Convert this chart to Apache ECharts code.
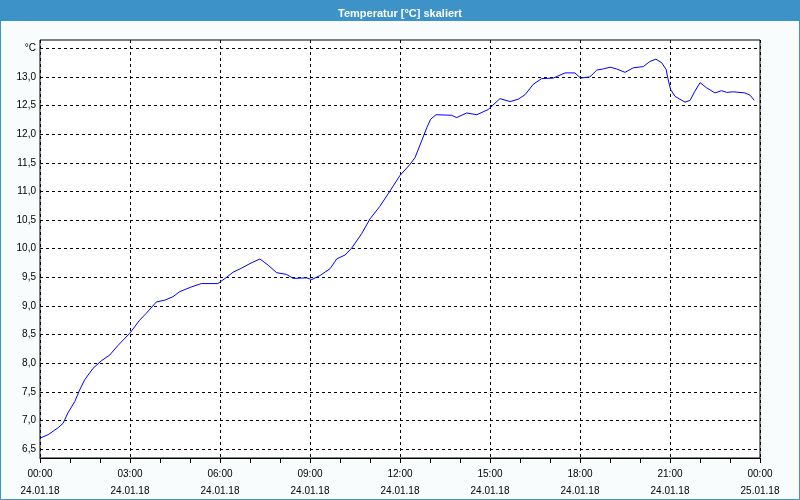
<!DOCTYPE html>
<html>
<head>
<meta charset="utf-8">
<script src="https://cdn.jsdelivr.net/npm/echarts@6/dist/echarts.min.js"></script>
<style>
html,body{margin:0;padding:0;background:#f9fcfc;}
#c{width:800px;height:500px;}
</style>
</head>
<body>
<div id="c"></div>
<script>
var titleText = 'Temperatur [°C] skaliert';
var hours = [0,0.27,0.6,0.77,0.93,1.16,1.32,1.49,1.77,2.04,2.32,2.6,2.99,3.32,3.54,3.88,4.16,4.43,4.66,5.04,5.38,5.93,6.22,6.44,6.72,7.0,7.33,7.61,7.89,8.22,8.44,8.89,9.06,9.33,9.67,9.89,10.17,10.39,10.72,11.0,11.33,11.67,12.0,12.33,12.5,12.72,12.89,13.02,13.2,13.72,13.89,14.22,14.56,14.94,15.33,15.67,15.94,16.17,16.44,16.72,17.11,17.5,17.83,18.02,18.33,18.56,18.78,19.0,19.22,19.5,19.78,20.11,20.33,20.53,20.72,20.87,20.94,21.02,21.17,21.33,21.5,21.67,21.83,22.0,22.22,22.5,22.72,22.89,23.11,23.5,23.67,23.81];
var temps = [6.69,6.75,6.87,6.95,7.13,7.33,7.53,7.71,7.91,8.04,8.14,8.31,8.52,8.75,8.87,9.07,9.10,9.16,9.25,9.33,9.39,9.39,9.50,9.59,9.66,9.74,9.82,9.71,9.58,9.55,9.48,9.49,9.46,9.53,9.65,9.82,9.89,10.01,10.26,10.52,10.74,11.01,11.28,11.47,11.59,11.88,12.11,12.26,12.34,12.33,12.29,12.37,12.34,12.43,12.62,12.57,12.61,12.69,12.87,12.97,12.98,13.07,13.07,12.98,13.00,13.12,13.14,13.17,13.14,13.08,13.16,13.18,13.27,13.31,13.25,13.13,12.95,12.78,12.66,12.61,12.56,12.59,12.75,12.90,12.81,12.72,12.76,12.73,12.74,12.72,12.68,12.59];
var yTicks = [6.5,7.0,7.5,8.0,8.5,9.0,9.5,10.0,10.5,11.0,11.5,12.0,12.5,13.0,13.5];
var unitLabel = '°C';
var timeLabels = ['00:00','03:00','06:00','09:00','12:00','15:00','18:00','21:00','00:00'];
var dateLabels = ['24.01.18','24.01.18','24.01.18','24.01.18','24.01.18','24.01.18','24.01.18','24.01.18','25.01.18'];

var data = hours.map(function(h,i){return [h,temps[i]];});
var font = 'Liberation Sans';
var chart = echarts.init(document.getElementById('c'));
chart.setOption({
  animation:false,
  backgroundColor:'#f9fcfc',
  graphic:[
    {type:'rect',z:-1,shape:{x:0,y:0,width:800,height:21},style:{fill:'#3d92c8'}},
    {type:'rect',z:100,shape:{x:0.5,y:0.5,width:799,height:499},style:{fill:null,stroke:'#3d92c8',lineWidth:1}}
  ],
  title:{text:titleText,left:'center',top:3,textStyle:{color:'#fff',fontFamily:font,fontSize:11,fontWeight:'bold'}},
  grid:{left:40,right:40,top:40,bottom:40,show:true,backgroundColor:'#ffffff',borderColor:'#000',borderWidth:1},
  xAxis:{type:'value',min:0,max:24,interval:3,
    axisLine:{show:true,lineStyle:{color:'#000',width:1}},
    axisTick:{show:true,length:5,lineStyle:{color:'#000'}},
    minorTick:{show:true,splitNumber:3,length:5,lineStyle:{color:'#000'}},
    splitLine:{show:true,lineStyle:{color:'#000',type:[3,3],width:1}},
    axisLabel:{margin:8,color:'#000',fontFamily:font,fontSize:10,lineHeight:17,
      formatter:function(v){var i=Math.round(v/3);return timeLabels[i]+'\n'+dateLabels[i];}}
  },
  yAxis:{type:'value',min:6.343,max:13.645,
    axisLine:{show:false},
    axisTick:{show:false,customValues:yTicks},
    splitLine:{show:true,lineStyle:{color:'#000',type:[3,3],width:1}},
    axisLabel:{customValues:yTicks,margin:4,color:'#000',fontFamily:font,fontSize:10,
      formatter:function(v){return Math.abs(v-13.5)<1e-6?unitLabel:v.toFixed(1).replace('.',',');}}
  },
  series:[{type:'line',data:data,showSymbol:false,symbol:'none',smooth:false,
    lineStyle:{color:'#0000ff',width:1},itemStyle:{color:'#0000ff'}}]
});
</script>
</body>
</html>
